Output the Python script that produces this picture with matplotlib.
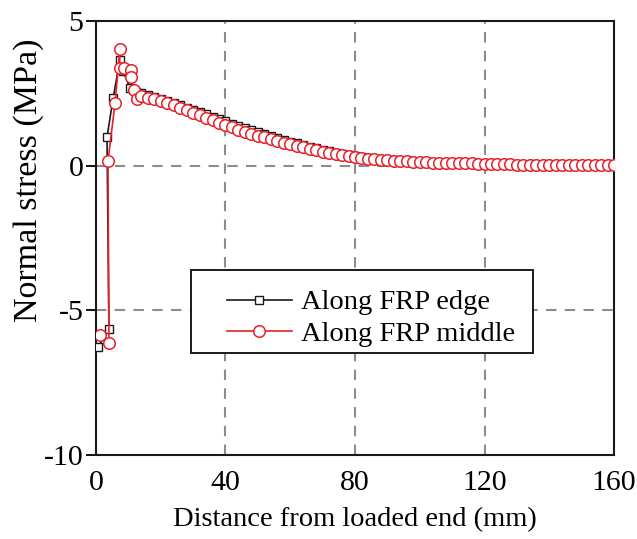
import matplotlib
matplotlib.use("Agg")
import matplotlib.pyplot as plt
from matplotlib.patches import Rectangle

plt.rcParams['font.family'] = ['Liberation Serif', 'DejaVu Serif']
plt.rcParams['axes.unicode_minus'] = False

# ---- data ----
x_edge_start = [0.7, 4.0, 3.4, 5.3, 7.4, 8.4, 10.5, 12.3]
y_edge_start = [-6.25, -5.65, 0.98, 2.34, 3.67, 3.26, 2.69, 2.55]

x_mid_start = [1.2, 4.0, 3.7, 5.9, 7.4, 7.3, 8.7, 10.7, 10.9, 11.8, 12.8]
y_mid_start = [-5.85, -6.14, 0.15, 2.18, 4.05, 3.38, 3.38, 3.32, 3.08, 2.6, 2.3]

x_decay = list(range(14, 161, 2))

y_edge_decay = [2.50, 2.44, 2.38, 2.31, 2.24, 2.17, 2.09, 2.01, 1.93, 1.85,
                1.77, 1.69, 1.61, 1.53, 1.45, 1.37, 1.30, 1.22, 1.15, 1.08,
                1.02, 0.95, 0.89, 0.83, 0.77, 0.71, 0.65, 0.60, 0.55, 0.50,
                0.45, 0.41, 0.36, 0.33, 0.29, 0.26, 0.24, 0.21, 0.19, 0.18,
                0.17, 0.15, 0.14, 0.13, 0.12, 0.11, 0.11, 0.10, 0.09, 0.09,
                0.08, 0.08, 0.07, 0.07, 0.06, 0.06, 0.05, 0.05, 0.04, 0.04,
                0.04, 0.03, 0.03, 0.03, 0.02, 0.02, 0.02, 0.02, 0.01, 0.01,
                0.01, 0.01, 0.01, 0.01]

y_mid_decay = [2.40, 2.35, 2.30, 2.25, 2.17, 2.09, 2.00, 1.92, 1.83, 1.74,
               1.66, 1.57, 1.49, 1.40, 1.33, 1.25, 1.18, 1.11, 1.04, 0.98,
               0.92, 0.86, 0.80, 0.75, 0.69, 0.64, 0.58, 0.53, 0.49, 0.44,
               0.40, 0.36, 0.32, 0.29, 0.26, 0.24, 0.22, 0.20, 0.18, 0.17,
               0.16, 0.15, 0.14, 0.13, 0.12, 0.11, 0.11, 0.10, 0.09, 0.09,
               0.08, 0.08, 0.07, 0.07, 0.06, 0.06, 0.05, 0.05, 0.04, 0.04,
               0.04, 0.03, 0.03, 0.03, 0.02, 0.02, 0.02, 0.02, 0.01, 0.01,
               0.01, 0.01, 0.01, 0.01]

x_edge = x_edge_start + x_decay
y_edge = y_edge_start + y_edge_decay
x_mid = x_mid_start + x_decay
y_mid = y_mid_start + y_mid_decay

x_ticks = [0, 40, 80, 120, 160]
y_ticks = [-10, -5, 0, 5]
labels = ["Along FRP edge", "Along FRP middle"]

# ---- figure ----
fig = plt.figure(figsize=(6.37, 5.39), dpi=100)
ax = fig.add_axes([0.1507, 0.1558, 0.8132, 0.8052])

red = '#e8202a'
black = '#1a1a1a'
grid_c = '#8c8c8c'

ax.plot(x_edge, y_edge, color=black, lw=1.2, marker='s', ms=6,
        mfc='white', mec=black, mew=1.0, label=labels[0], zorder=3)
ax.plot(x_mid, y_mid, color=red, lw=1.2, marker='o', ms=8.3,
        mfc='white', mec=red, mew=1.1, label=labels[1], zorder=4)

ax.set_xlim(0, 160)
ax.set_ylim(-10, 5)
ax.set_xticks(x_ticks)
ax.set_yticks(y_ticks)

for v in [40, 80, 120]:
    ax.axvline(v, color=grid_c, lw=1.5, ls=(0, (5, 4)), zorder=1)
for v in [0, -5]:
    ax.axhline(v, color=grid_c, lw=1.5, ls=(0, (5, 4)), zorder=1)

for s in ax.spines.values():
    s.set_linewidth(1.5)
    s.set_color(black)

ax.tick_params(axis='x', direction='in', length=0, labelsize=21.5, pad=11)
ax.tick_params(axis='y', direction='out', length=7, width=1.3, labelsize=21.5, pad=2)

ax.set_xlabel("Distance from loaded end (mm)", fontsize=20.5, labelpad=8)
ax.set_ylabel("Normal stress (MPa)", fontsize=24.5)
ax.yaxis.set_label_coords(-0.100, 0.634)

# legend frame drawn as rectangle in axes coordinates
frame = Rectangle((0.1834, 0.2357), 0.6602, 0.1906, transform=ax.transAxes,
                  facecolor='white', edgecolor=black, lw=1.4, zorder=5)
ax.add_patch(frame)
leg = ax.legend(loc='center left', bbox_to_anchor=(0.2523, 0.315), fontsize=20.5,
                frameon=False, handlelength=2.3, handletextpad=0.3,
                borderpad=0, borderaxespad=0, labelspacing=0.2)
leg.set_zorder(6)

fig.savefig("out.png", dpi=100)
